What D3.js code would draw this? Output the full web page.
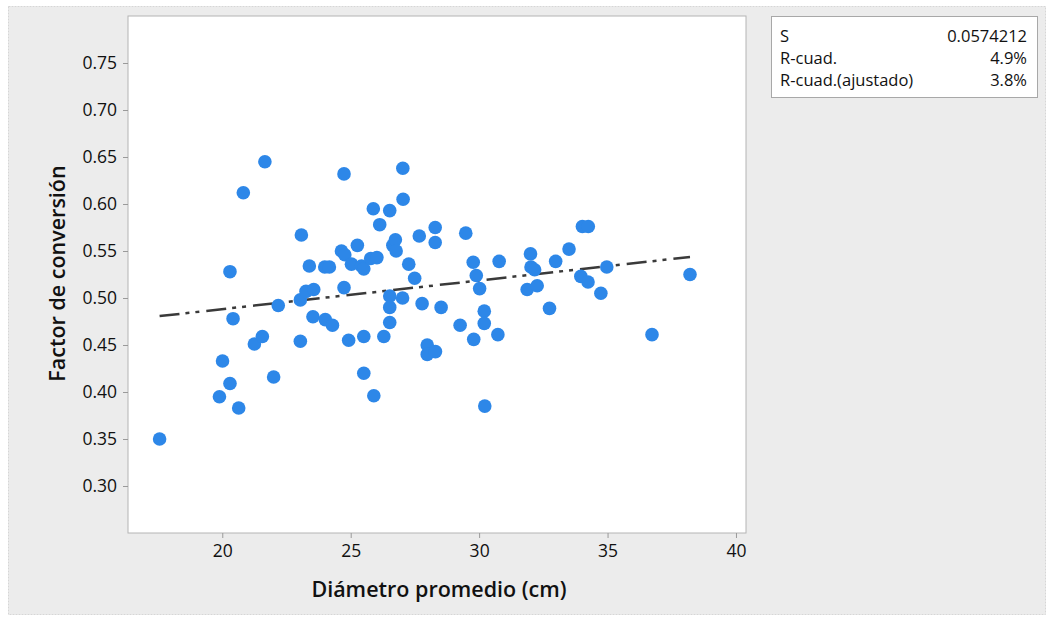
<!DOCTYPE html>
<html>
<head>
<meta charset="utf-8">
<script src="https://cdn.jsdelivr.net/npm/d3@7"></script>
<style>
  body { margin: 0; background: #fff; }
  text { font-family: "Open Sans", "Noto Sans", sans-serif; fill: #111; }
</style>
</head>
<body>
<div id="chart"></div>
<script>
// data
const diametro = [
  17.56, 19.89, 20.01, 20.30, 20.30, 20.42, 20.64, 20.82, 21.25, 21.56,
  21.66, 22.00, 22.18, 23.04, 23.04, 23.08, 23.26, 23.39, 23.53, 23.56,
  23.99, 24.17, 24.01, 24.29, 24.64, 24.77, 24.74, 24.74, 24.92, 25.03,
  25.26, 25.42, 25.51, 25.51, 25.51, 25.78, 26.02, 25.88, 25.90, 26.13,
  26.29, 26.52, 26.52, 26.52, 26.52, 26.64, 26.74, 26.77, 27.03, 27.04,
  27.02, 27.26, 27.49, 27.67, 27.78, 27.98, 27.98, 28.30, 28.29, 28.29,
  28.52, 29.26, 29.48, 29.77, 29.79, 29.89, 30.02, 30.20, 30.20, 30.22,
  30.73, 30.78, 31.87, 32.26, 32.00, 32.02, 32.16, 32.74, 32.98, 33.50,
  33.96, 34.24, 34.02, 34.25, 34.74, 34.97, 36.73, 38.21
];
const factor = [
  0.350, 0.395, 0.433, 0.528, 0.409, 0.478, 0.383, 0.612, 0.451, 0.459,
  0.645, 0.416, 0.492, 0.454, 0.498, 0.567, 0.507, 0.534, 0.480, 0.509,
  0.533, 0.533, 0.477, 0.471, 0.550, 0.546, 0.632, 0.511, 0.455, 0.536,
  0.556, 0.534, 0.531, 0.459, 0.420, 0.542, 0.543, 0.595, 0.396, 0.578,
  0.459, 0.593, 0.502, 0.490, 0.474, 0.556, 0.562, 0.550, 0.638, 0.605,
  0.500, 0.536, 0.521, 0.566, 0.494, 0.450, 0.440, 0.443, 0.575, 0.559,
  0.490, 0.471, 0.569, 0.538, 0.456, 0.524, 0.510, 0.486, 0.473, 0.385,
  0.461, 0.539, 0.509, 0.513, 0.547, 0.533, 0.530, 0.489, 0.539, 0.552,
  0.523, 0.517, 0.576, 0.576, 0.505, 0.533, 0.461, 0.525
];
const xTicks = [20, 25, 30, 35, 40];
const yTicks = [0.30, 0.35, 0.40, 0.45, 0.50, 0.55, 0.60, 0.65, 0.70, 0.75];
const statLabels = ["S", "R-cuad.", "R-cuad.(ajustado)"];
const statValues = ["0.0574212", "4.9%", "3.8%"];

const W = 1053, H = 620;
const plot = { left: 128, top: 16, right: 746, bottom: 533 };

const svg = d3.select("#chart").append("svg")
  .attr("width", W).attr("height", H);

// gray panel
svg.append("rect")
  .attr("x", 8.5).attr("y", 6.5).attr("width", 1037).attr("height", 608)
  .attr("fill", "#ececec").attr("stroke", "#d6d6d6").attr("stroke-dasharray", "2,1");

// plot area
svg.append("rect")
  .attr("x", plot.left).attr("y", plot.top)
  .attr("width", plot.right - plot.left).attr("height", plot.bottom - plot.top)
  .attr("fill", "#fff").attr("stroke", "#b4b4b4");

const x = d3.scaleLinear().domain([16.33, 40.39]).range([plot.left, plot.right]);
const y = d3.scaleLinear().domain([0.25, 0.80]).range([plot.bottom, plot.top]);

// axes
const xAxis = svg.append("g")
  .attr("transform", `translate(0,${plot.bottom})`)
  .call(d3.axisBottom(x).tickValues(xTicks).tickSize(5).tickPadding(7).tickFormat(d3.format("d")));
const yAxis = svg.append("g")
  .attr("transform", `translate(${plot.left},0)`)
  .call(d3.axisLeft(y).tickValues(yTicks).tickSize(5).tickPadding(6).tickFormat(d3.format(".2f")));
[xAxis, yAxis].forEach(g => {
  g.select(".domain").remove();
  g.selectAll(".tick line").attr("stroke", "#9a9a9a");
  g.selectAll(".tick text").style("font-size", "17.5px").style("font-weight", 500).attr("fill", "#111");
});

// axis titles
svg.append("text")
  .attr("x", (plot.left + plot.right) / 2 + 2).attr("y", 597)
  .attr("text-anchor", "middle").style("font-size", "21.5px").style("font-weight", 600)
  .text("Diámetro promedio (cm)");
svg.append("text")
  .attr("transform", `translate(65,${(plot.top + plot.bottom) / 2 - 1}) rotate(-90)`)
  .attr("text-anchor", "middle").style("font-size", "21.5px").style("font-weight", 600)
  .text("Factor de conversión");

// least squares fit
const pts = diametro.map((d, i) => ({ x: d, y: factor[i] }));
const mx = d3.mean(pts, d => d.x), my = d3.mean(pts, d => d.y);
const slope = d3.sum(pts, d => (d.x - mx) * (d.y - my)) / d3.sum(pts, d => (d.x - mx) ** 2);
const intercept = my - slope * mx;
const [xmin, xmax] = d3.extent(diametro);

svg.append("line")
  .attr("x1", x(xmin)).attr("y1", y(intercept + slope * xmin))
  .attr("x2", x(xmax)).attr("y2", y(intercept + slope * xmax))
  .attr("stroke", "#3a3a3a").attr("stroke-width", 2.5)
  .attr("stroke-dasharray", "20,6,4,6,4,7");

// points
svg.append("g").selectAll("circle")
  .data(pts).enter().append("circle")
  .attr("cx", d => x(d.x)).attr("cy", d => y(d.y))
  .attr("r", 6.8).attr("fill", "#2d87e8");

// stats box
const box = svg.append("g");
box.append("rect")
  .attr("x", 771.5).attr("y", 16.5).attr("width", 266).attr("height", 81)
  .attr("fill", "#fff").attr("stroke", "#a8a8a8");
statLabels.forEach((lab, i) => {
  box.append("text").attr("x", 780).attr("y", 42 + i * 22)
    .style("font-size", "16.5px").style("font-weight", 500).text(lab);
  box.append("text").attr("x", 1027).attr("y", 42 + i * 22)
    .attr("text-anchor", "end").style("font-size", "16.5px").style("font-weight", 500).text(statValues[i]);
});
</script>
</body>
</html>
